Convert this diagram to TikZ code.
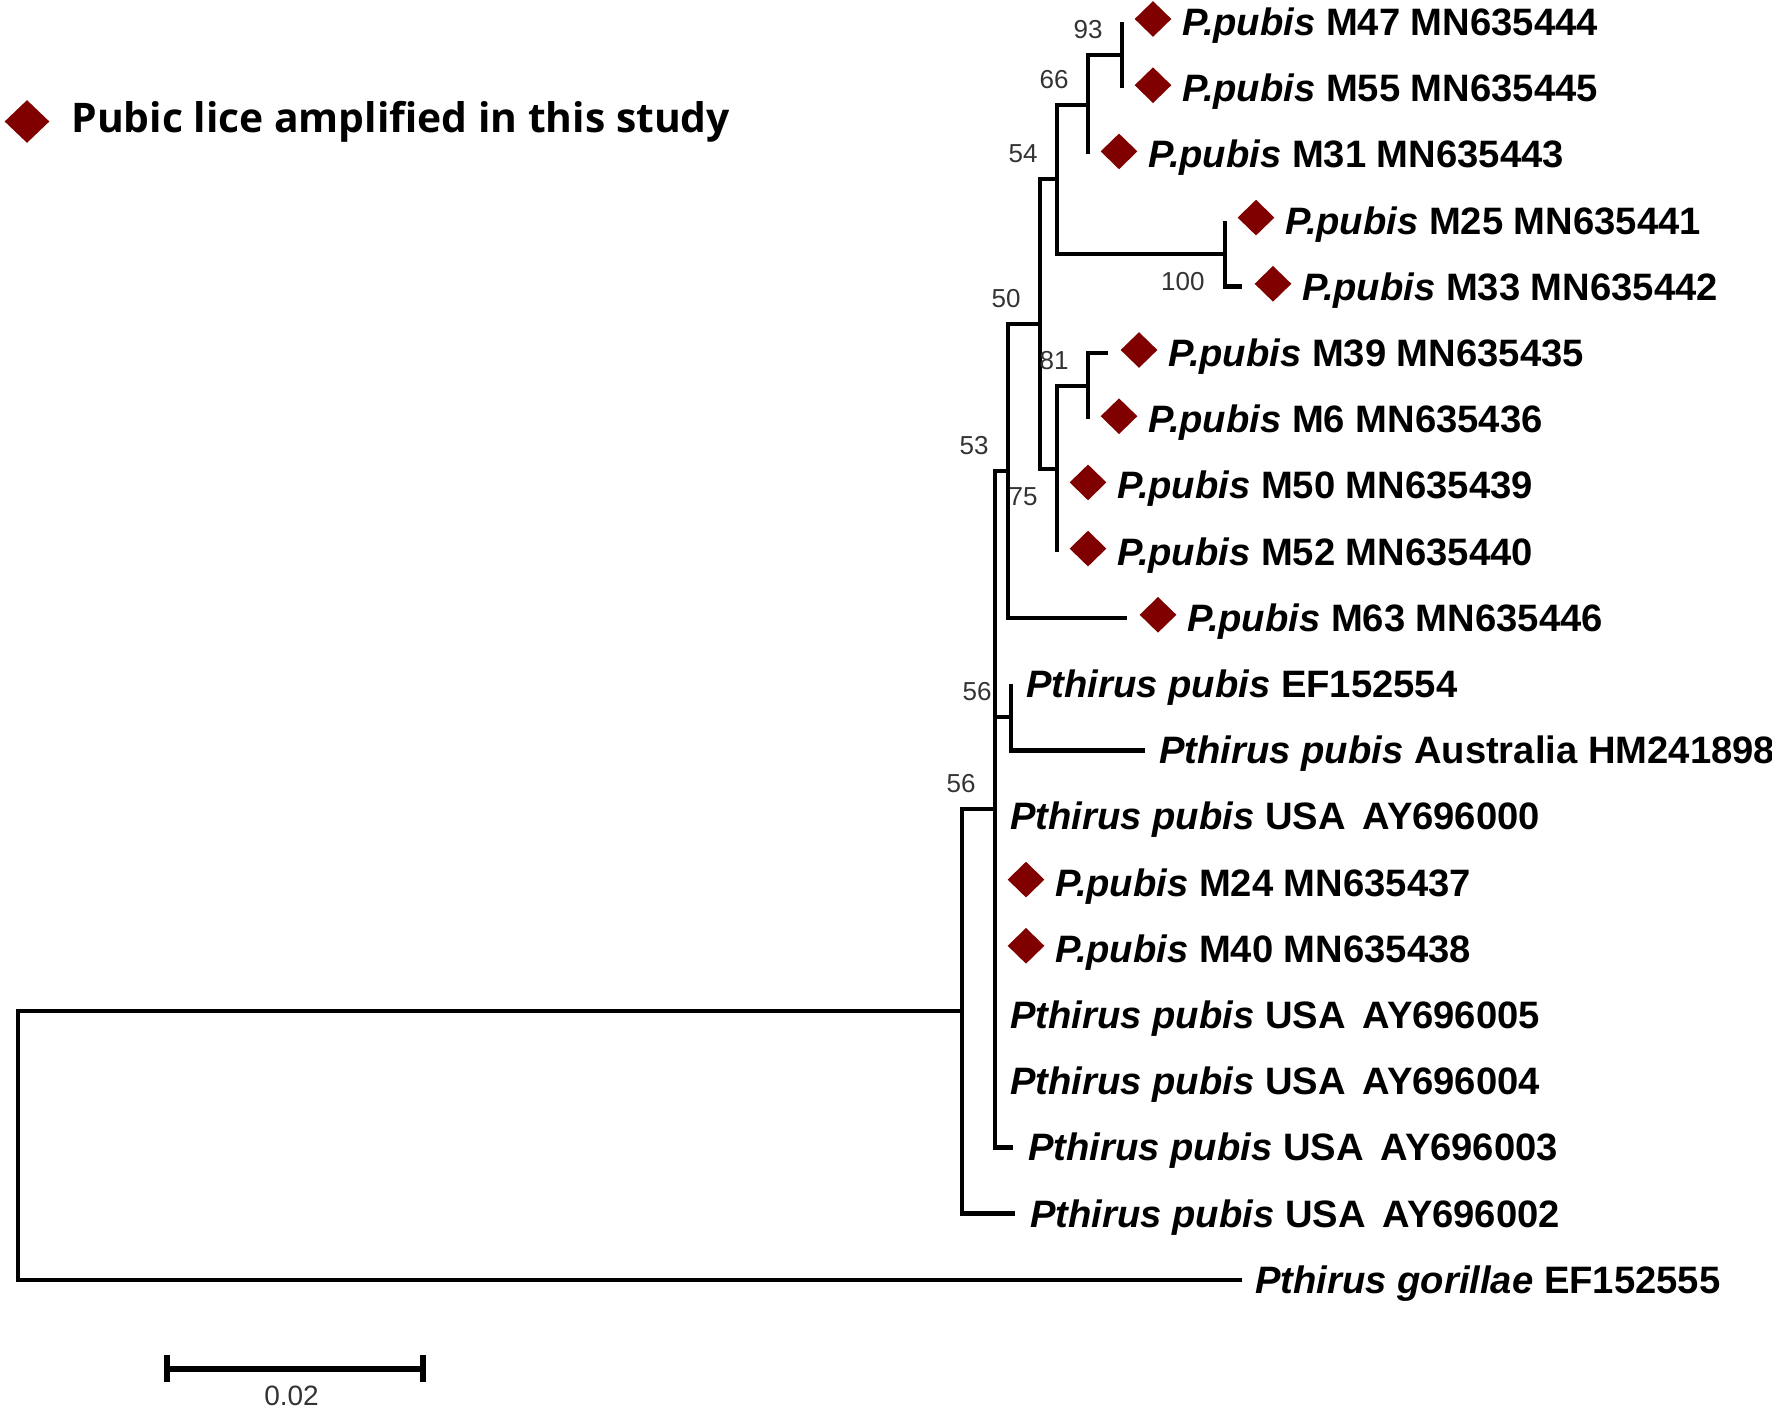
\documentclass[tikz,border=0pt]{standalone}
\usepackage{fontspec}
\setmainfont{Liberation Sans}
\newfontfamily\legendfont{Open Sans}
\usetikzlibrary{shapes.geometric}
\definecolor{liceRed}{RGB}{128,0,0}

\begin{document}
\begin{tikzpicture}[
  x=0.5pt, y=-0.5pt,
  br/.style={line width=2.3pt, line join=miter},
  sbar/.style={line width=3pt},
  leaf/.style={anchor=base west, inner sep=0pt, font=\fontsize{19.1}{22}\selectfont\bfseries},
  lice/.style={diamond, fill=liceRed, inner sep=0pt, minimum width=18.5pt, minimum height=18pt},
  bs/.style={anchor=east, inner sep=0pt, text=black!80, font=\fontsize{13}{15}\selectfont}
]
  \useasboundingbox (0,0) rectangle (1772,1412);

  % legend
  \node[lice, minimum width=22.5pt, minimum height=21.5pt] (key) at (27,121.5) {};
  \node[anchor=base west, inner sep=0pt, font=\legendfont\fontsize{20.4}{24}\selectfont\bfseries] (keytxt) at (71,133) {Pubic lice amplified in this study};

  % internal nodes
  \coordinate (root) at (18,1145);
  \coordinate (nX) at (962,1011);
  \coordinate (n56b) at (995,809);
  \coordinate (n53) at (1008,471);
  \coordinate (n50) at (1040,324);
  \coordinate (n54) at (1057,179);
  \coordinate (n66) at (1088,105);
  \coordinate (n93) at (1122,55);
  \coordinate (n100) at (1225,254);
  \coordinate (n75) at (1057,469);
  \coordinate (n81) at (1088,386);
  \coordinate (n56a) at (1011,717);

  % leaf ends
  \coordinate (lM47) at (1122,22);
  \coordinate (lM55) at (1122,88.2);
  \coordinate (lM31) at (1088,154.4);
  \coordinate (lM25) at (1225,220.6);
  \coordinate (lM33) at (1242,286.8);
  \coordinate (lM39) at (1108,353);
  \coordinate (lM6) at (1088,419.2);
  \coordinate (lM50) at (1057,485.4);
  \coordinate (lM52) at (1057,551.6);
  \coordinate (lM63) at (1127,617.8);
  \coordinate (lEF) at (1011,684);
  \coordinate (lAus) at (1145,750.2);
  \coordinate (lAY0) at (995,816.4);
  \coordinate (lM24) at (995,882.6);
  \coordinate (lM40) at (995,948.8);
  \coordinate (lAY5) at (995,1015);
  \coordinate (lAY4) at (995,1081.2);
  \coordinate (lAY3) at (1013,1147.4);
  \coordinate (lAY2) at (1015,1213.6);
  \coordinate (lGor) at (1242,1279.8);

  % branches
  \foreach \p/\c in {root/nX, root/lGor, nX/n56b, nX/lAY2,
      n56b/n53, n56b/n56a, n56b/lAY0, n56b/lM24, n56b/lM40, n56b/lAY5, n56b/lAY4, n56b/lAY3,
      n53/n50, n53/lM63, n50/n54, n50/n75, n54/n66, n54/n100,
      n66/n93, n66/lM31, n93/lM47, n93/lM55, n100/lM25, n100/lM33,
      n75/n81, n75/lM50, n75/lM52, n81/lM39, n81/lM6, n56a/lEF, n56a/lAus}
    \draw[br] (\p) |- (\c);

  % bootstrap values
  \foreach \n/\v in {n93/93, n66/66, n54/54, n50/50, n81/81, n53/53, n56a/56, n56b/56}
    \node[bs] (b\n) at ([xshift=-9.5pt, yshift=12.5pt]\n) {\v};
  \node[bs] (bn100) at ([xshift=-10pt, yshift=-14pt]n100) {100};
  \node[bs] (bn75) at ([xshift=-9.5pt, yshift=-14pt]n75) {75};

  % pubic lice of this study
  \foreach \c/\t in {lM47/M47 MN635444, lM55/M55 MN635445, lM31/M31 MN635443,
      lM25/M25 MN635441, lM33/M33 MN635442, lM39/M39 MN635435, lM6/M6 MN635436,
      lM50/M50 MN635439, lM52/M52 MN635440, lM63/M63 MN635446,
      lM24/M24 MN635437, lM40/M40 MN635438} {
    \node[lice] (d\c) at ([xshift=15.5pt, yshift=1.5pt]\c) {};
    \node[leaf] (t\c) at ([xshift=30pt, yshift=-6.75pt]\c) {\textit{P.pubis} \t};
  }

  % reference sequences
  \node[leaf] (tlEF) at ([xshift=7.5pt, yshift=-6.75pt]lEF) {\textit{Pthirus pubis} EF152554};
  \node[leaf] (tlAus) at ([xshift=7pt, yshift=-6.75pt]lAus) {\textit{Pthirus pubis} Australia HM241898};
  \node[leaf] (tlAY0) at ([xshift=7.5pt, yshift=-6.75pt]lAY0) {\textit{Pthirus pubis} USA\hspace{.45em}AY696000};
  \node[leaf] (tlAY5) at ([xshift=7.5pt, yshift=-6.75pt]lAY5) {\textit{Pthirus pubis} USA\hspace{.45em}AY696005};
  \node[leaf] (tlAY4) at ([xshift=7.5pt, yshift=-6.75pt]lAY4) {\textit{Pthirus pubis} USA\hspace{.45em}AY696004};
  \node[leaf] (tlAY3) at ([xshift=7.5pt, yshift=-6.75pt]lAY3) {\textit{Pthirus pubis} USA\hspace{.45em}AY696003};
  \node[leaf] (tlAY2) at ([xshift=7.5pt, yshift=-6.75pt]lAY2) {\textit{Pthirus pubis} USA\hspace{.45em}AY696002};
  \node[leaf] (tlGor) at ([xshift=6.5pt, yshift=-6.75pt]lGor) {\textit{Pthirus gorillae} EF152555};

  % scale bar
  \coordinate (sbL) at (167,1369);
  \coordinate (sbR) at (423,1369);
  \draw[sbar] (sbL) -- (sbR);
  \draw[sbar] ([yshift=7pt]sbL) -- ([yshift=-6.5pt]sbL);
  \draw[sbar] ([yshift=7pt]sbR) -- ([yshift=-6.5pt]sbR);
  \node[anchor=base, inner sep=0pt, text=black!80, font=\fontsize{14}{16}\selectfont] (sbtxt) at (291.5,1405) {0.02};
\end{tikzpicture}
\end{document}
